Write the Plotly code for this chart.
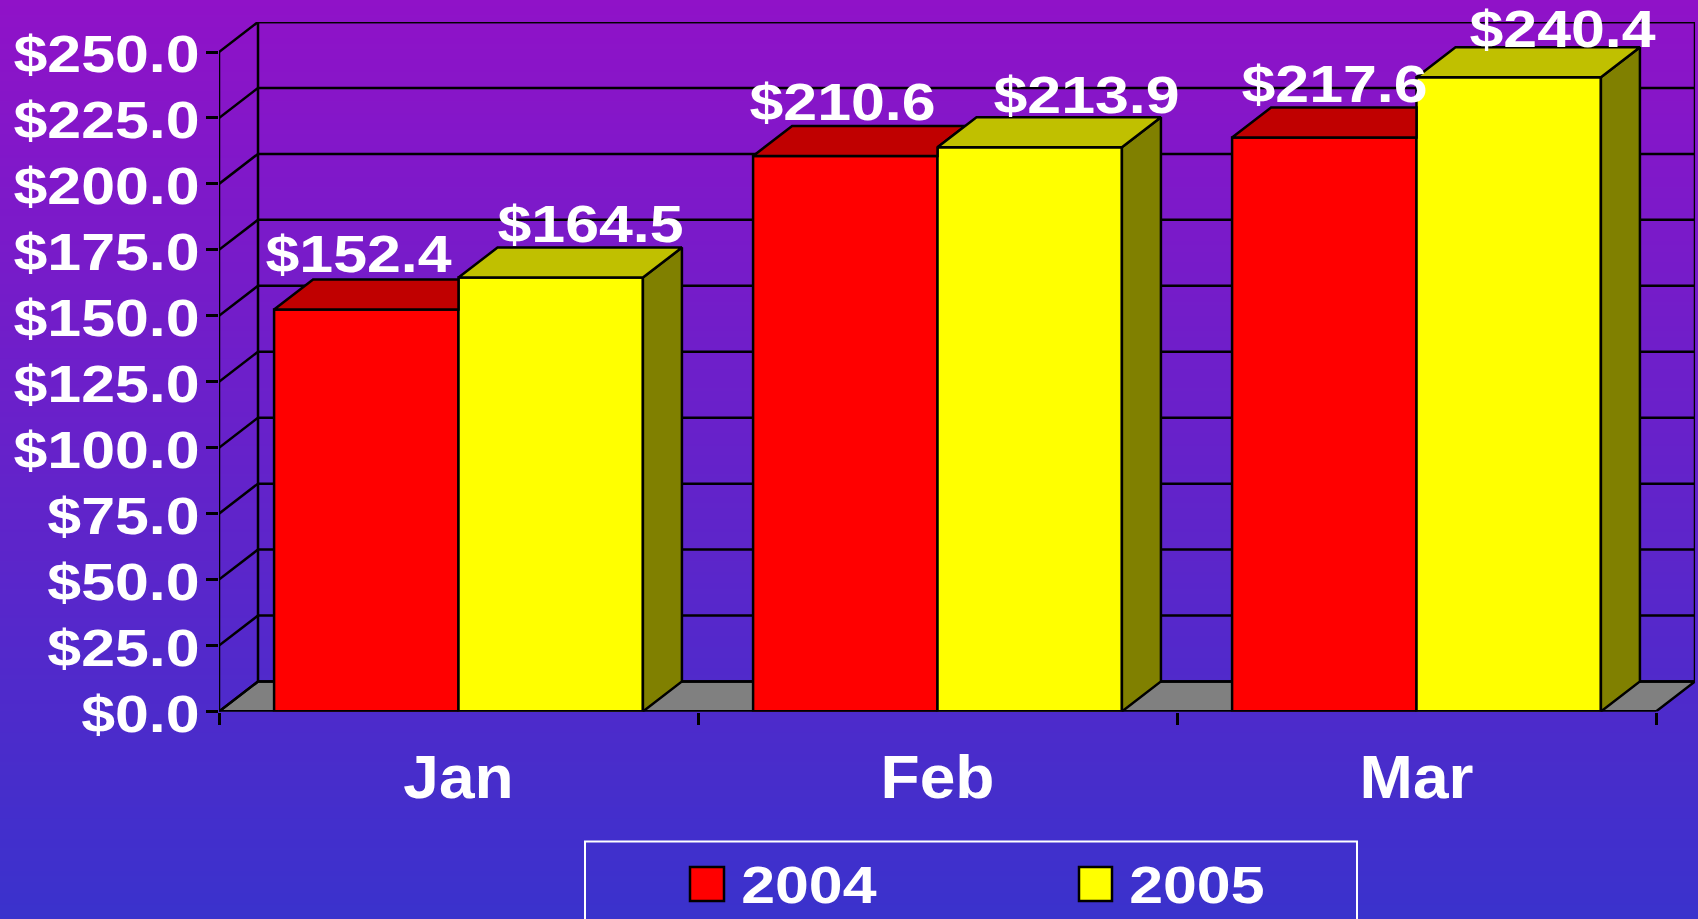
import plotly.graph_objects as go

# ---- data ----
MONTHS = ["Jan", "Feb", "Mar"]
SERIES_2004 = [152.4, 210.6, 217.6]
SERIES_2005 = [164.5, 213.9, 240.4]
Y_TICKS = [0, 25, 50, 75, 100, 125, 150, 175, 200, 225, 250]
LABEL_SHIFT_2004 = [(-8, 55), (-3, 54), (10, 53)]
LABEL_SHIFT_2005 = [(40, 54), (57, 52), (54, 48)]

# ---- styling / geometry ----
W, H = 1698, 919
PX_L, PX_R, PX_T, PX_B = 219, 1695, 22, 711.5
BARGAP = 0.23
BAR_W = (1 - BARGAP) / 2
DX = 39 / 479          # depth of the 3-D box in x units
DY = 30 / 2.636        # depth of the 3-D box in y units
LW = 2.5
FONT = "Liberation Sans"
BLACK = "#000000"


def px_x(p):
    return p / W


def px_y(p):
    return 1 - p / H


def poly(points):
    return "M " + " L ".join(f"{x},{y}" for x, y in points) + " Z"


fig = go.Figure()

# page gradient, on the first (lowest) subplot
fig.add_trace(go.Heatmap(
    z=[[0, 0], [1, 1]], x=[0, 1], y=[0, 1], zsmooth="best", showscale=False,
    colorscale=[[0, "#3A32CC"], [1, "#9012C8"]], hoverinfo="skip",
    xaxis="x", yaxis="y",
))

x_lo, x_hi = -0.5, len(MONTHS) - 0.5

shapes = []
AX = dict(xref="x2", yref="y2", layer="below")
# floor
shapes.append(dict(type="path", path=poly([(x_lo, 0), (x_lo + DX, DY), (x_hi + DX, DY), (x_hi, 0)]),
                   fillcolor="#808080", line=dict(color=BLACK, width=LW), **AX))
# back wall grid lines and side wall diagonals
for v in Y_TICKS:
    shapes.append(dict(type="line", x0=x_lo + DX, x1=x_hi + DX, y0=v + DY, y1=v + DY,
                       line=dict(color=BLACK, width=LW), **AX))
    shapes.append(dict(type="line", x0=x_lo, x1=x_lo + DX, y0=v, y1=v + DY,
                       line=dict(color=BLACK, width=LW), **AX))

# fronts of the bars
for name, vals, col, off in [("2004", SERIES_2004, "#FF0000", -BAR_W),
                             ("2005", SERIES_2005, "#FFFF00", 0)]:
    fig.add_trace(go.Bar(
        x=list(range(len(MONTHS))), y=vals, name=name, width=BAR_W, offset=off,
        marker=dict(color=col, line=dict(color=BLACK, width=LW)),
        xaxis="x2", yaxis="y2", showlegend=False, cliponaxis=False,
    ))


def closed_path(list_of_polys):
    xs, ys = [], []
    for pts in list_of_polys:
        pts = pts + [pts[0]]
        xs += [p[0] for p in pts] + [None]
        ys += [p[1] for p in pts] + [None]
    return xs, ys


def add_faces(polys, color):
    xs, ys = closed_path(polys)
    fig.add_trace(go.Scatter(
        x=xs, y=ys, mode="lines", fill="toself", fillcolor=color,
        line=dict(color=BLACK, width=LW), xaxis="x2", yaxis="y2",
        showlegend=False, hoverinfo="skip", cliponaxis=False,
    ))


# top of the 2004 bars, only the part that the 2005 bar does not hide
tops_2004 = []
for i, (h, h2) in enumerate(zip(SERIES_2004, SERIES_2005)):
    xl, xr = i - BAR_W, i
    if h2 >= h + DY:
        pts = [(xl, h), (xl + DX, h + DY), (xr, h + DY), (xr, h)]
    else:
        xd = xr + DX * (h + DY - h2) / DY
        pts = [(xl, h), (xl + DX, h + DY), (xd, h + DY), (xr, h2), (xr, h)]
    tops_2004.append(pts)
add_faces(tops_2004, "#C00000")

# side and top of the 2005 bars
sides, tops = [], []
for i, h in enumerate(SERIES_2005):
    xl, xr = i, i + BAR_W
    sides.append([(xr, 0), (xr + DX, DY), (xr + DX, h + DY), (xr, h)])
    tops.append([(xl, h), (xl + DX, h + DY), (xr + DX, h + DY), (xr, h)])
add_faces(sides, "#808000")
add_faces(tops, "#C0C000")

# frame lines that must not lose half their width at the plot edge
frame = [
    ([x_lo, x_lo], [0, Y_TICKS[-1]], LW),
    ([x_lo + DX, x_lo + DX], [DY, Y_TICKS[-1] + DY], LW),
    ([x_hi + DX, x_hi + DX], [DY, Y_TICKS[-1] + DY], LW),
    ([x_lo + DX, x_hi + DX], [Y_TICKS[-1] + DY, Y_TICKS[-1] + DY], LW),
    ([x_lo, x_hi], [0, 0], 3),
]
for xs, ys, w in frame:
    fig.add_trace(go.Scatter(x=xs, y=ys, mode="lines", line=dict(color=BLACK, width=w),
                             xaxis="x2", yaxis="y2", showlegend=False,
                             hoverinfo="skip", cliponaxis=False))

# value labels and legend
annotations = []
for vals, shifts, base in [(SERIES_2004, LABEL_SHIFT_2004, -BAR_W / 2),
                           (SERIES_2005, LABEL_SHIFT_2005, BAR_W / 2)]:
    for i, (v, (sx, sy)) in enumerate(zip(vals, shifts)):
        annotations.append(dict(
            x=i + base, y=v, xref="x2", yref="y2", text=f"${v:.1f}", showarrow=False,
            xanchor="center", yanchor="middle", xshift=sx, yshift=sy,
            font=dict(family=FONT, size=52, color="#FFFFFF", weight="bold"),
        ))

shapes.append(dict(type="rect", xref="paper", yref="paper",
                   x0=px_x(585), x1=px_x(1357), y0=px_y(960), y1=px_y(841.5),
                   line=dict(color="#FFFFFF", width=2), fillcolor="rgba(0,0,0,0)"))
for label, col, sx0, sx1, tx in [("2004", "#FF0000", 690, 724, 808.6),
                                 ("2005", "#FFFF00", 1079, 1112, 1197)]:
    shapes.append(dict(type="rect", xref="paper", yref="paper",
                       x0=px_x(sx0), x1=px_x(sx1), y0=px_y(901), y1=px_y(867),
                       line=dict(color=BLACK, width=LW), fillcolor=col))
    annotations.append(dict(
        x=px_x(tx), y=px_y(885), xref="paper", yref="paper", text=label, showarrow=False,
        xanchor="center", yanchor="middle",
        font=dict(family=FONT, size=52, color="#FFFFFF", weight="bold"),
    ))

fig.update_layout(
    template="none",
    width=W, height=H, margin=dict(l=0, r=0, t=0, b=0, pad=0), autosize=False,
    paper_bgcolor="#3A32CC", plot_bgcolor="rgba(0,0,0,0)",
    barmode="overlay", showlegend=False, hovermode=False,
    shapes=shapes, annotations=annotations,
    xaxis=dict(domain=[0, 1], range=[0, 1], visible=False, fixedrange=True, automargin=False),
    yaxis=dict(domain=[0, 1], range=[0, 1], visible=False, fixedrange=True, automargin=False),
    xaxis2=dict(
        domain=[px_x(PX_L), px_x(PX_R)], range=[x_lo, x_hi + DX], anchor="y2", automargin=False,
        tickmode="array", tickvals=list(range(len(MONTHS))), ticktext=MONTHS, ticks="",
        showgrid=False, zeroline=False, showline=False, ticklabelstandoff=24,
        tickfont=dict(family=FONT, size=61, color="#FFFFFF", weight="bold"),
        minor=dict(tickmode="array", tickvals=[x_lo + k for k in range(len(MONTHS) + 1)],
                   ticks="outside", ticklen=12, tickwidth=LW, tickcolor=BLACK, showgrid=False),
    ),
    yaxis2=dict(
        domain=[px_y(PX_B), px_y(PX_T)], range=[0, Y_TICKS[-1] + DY], anchor="x2", automargin=False,
        tickmode="array", tickvals=Y_TICKS, ticktext=[f"${v:.1f}" for v in Y_TICKS],
        ticks="outside", ticklen=12, tickwidth=LW, tickcolor=BLACK,
        showgrid=False, zeroline=False, showline=False, ticklabelstandoff=-4,
        tickfont=dict(family=FONT, size=52, color="#FFFFFF", weight="bold"),
    ),
)

POST = """
document.body.style.margin = '0';
document.body.style.overflow = 'hidden';
function stretch(sel, k, dy) {
  document.querySelectorAll(sel).forEach(function (t) {
    var len = t.getComputedTextLength();
    t.setAttribute('lengthAdjust', 'spacingAndGlyphs');
    t.setAttribute('textLength', (len * k).toFixed(1));
    if (dy) { t.setAttribute('dy', dy); }
  });
}
stretch('.y2tick text', 1.17, 2);
stretch('.annotation-text', 1.17, 0);
stretch('.x2tick text', 1.05, 0);
"""
fig.write_html("out.html", post_script=POST, config={"displayModeBar": False})
